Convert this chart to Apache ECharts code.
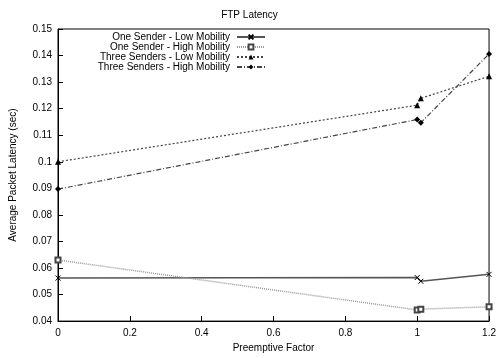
<!DOCTYPE html>
<html>
<head>
<meta charset="utf-8">
<script src="https://cdn.jsdelivr.net/npm/echarts@6/dist/echarts.min.js"></script>
<style>
  html, body { margin: 0; padding: 0; background: #fff; }
  #FtpLatency { width: 499px; height: 358px; }
</style>
</head>
<body>
<div id="FtpLatency"></div>
<script>
// x = preemptive factor
const xVals = [0, 1, 1.01, 1.2];
const oneLow = [0.0562, 0.0564, 0.0550, 0.0576];
const oneHigh = [0.0630, 0.0442, 0.0445, 0.0454];
const threeLow = [0.1000, 0.1213, 0.1239, 0.1322];
const threeHigh = [0.0897, 0.1159, 0.1147, 0.1406];
const seriesNames = [
  "One Sender - Low Mobility",
  "One Sender - High Mobility",
  "Three Senders - Low Mobility",
  "Three Senders - High Mobility"
];

const crossPath = "path://M0,0L10,10M10,0L0,10";
const font = "Liberation Sans, Arial, sans-serif";

function pairs(ys) {
  return xVals.map((x, i) => [x, ys[i]]);
}

const chartDom = document.getElementById("FtpLatency");
const myChart = echarts.init(chartDom);
const option = {
  animation: false,
  title: {
    text: "FTP Latency",
    left: "center",
    top: 5,
    textStyle: { fontSize: 10, fontWeight: "normal", color: "#000", fontFamily: font }
  },
  legend: {
    orient: "vertical",
    right: 228,
    top: 27,
    align: "right",
    itemWidth: 28,
    itemHeight: 6,
    itemGap: 0,
    textStyle: { fontSize: 10, color: "#000", fontFamily: font, padding: [0, 2, 0, 0] },
    data: seriesNames
  },
  grid: {
    left: 55,
    right: 7,
    top: 29,
    bottom: 36,
    show: true,
    borderColor: "#000",
    borderWidth: 1
  },
  xAxis: {
    type: "value",
    min: 0,
    max: 1.2,
    interval: 0.2,
    name: "Preemptive Factor",
    nameLocation: "middle",
    nameGap: 19,
    nameTextStyle: { fontSize: 10, color: "#000", fontFamily: font },
    axisLine: { lineStyle: { color: "#000" } },
    axisTick: { inside: true, length: 5, lineStyle: { color: "#000" } },
    axisLabel: {
      color: "#000", fontSize: 10, fontFamily: font, margin: 7,
      formatter: v => String(+v.toFixed(1))
    },
    splitLine: { show: false }
  },
  yAxis: {
    type: "value",
    min: 0.04,
    max: 0.15,
    interval: 0.01,
    name: "Average Packet Latency (sec)",
    nameLocation: "middle",
    nameGap: 40,
    nameTextStyle: { fontSize: 10, color: "#000", fontFamily: font },
    axisLine: { lineStyle: { color: "#000" } },
    axisTick: { inside: true, length: 5, lineStyle: { color: "#000" } },
    axisLabel: {
      color: "#000", fontSize: 10, fontFamily: font, margin: 6,
      formatter: v => String(+v.toFixed(2))
    },
    splitLine: { show: false }
  },
  series: [
    {
      name: seriesNames[0], type: "line", data: pairs(oneLow),
      symbol: crossPath, symbolSize: 5,
      itemStyle: { color: "#333", borderColor: "#000", borderWidth: 1 },
      lineStyle: { color: "#555", width: 1.5, type: "solid" }
    },
    {
      name: seriesNames[1], type: "line", data: pairs(oneHigh),
      symbol: "emptyRect", symbolSize: 5,
      itemStyle: { color: "#444", borderColor: "#222", borderWidth: 1 },
      lineStyle: { color: "#999", width: 1.5, type: [1, 1] }
    },
    {
      name: seriesNames[2], type: "line", data: pairs(threeLow),
      symbol: "triangle", symbolSize: 6,
      itemStyle: { color: "#000" },
      lineStyle: { color: "#444", width: 1.2, type: [2, 2] }
    },
    {
      name: seriesNames[3], type: "line", data: pairs(threeHigh),
      symbol: "diamond", symbolSize: 6,
      itemStyle: { color: "#000" },
      lineStyle: { color: "#444", width: 1.2, type: [5, 2, 1, 2] }
    }
  ]
};
option && myChart.setOption(option);
</script>
</body>
</html>
